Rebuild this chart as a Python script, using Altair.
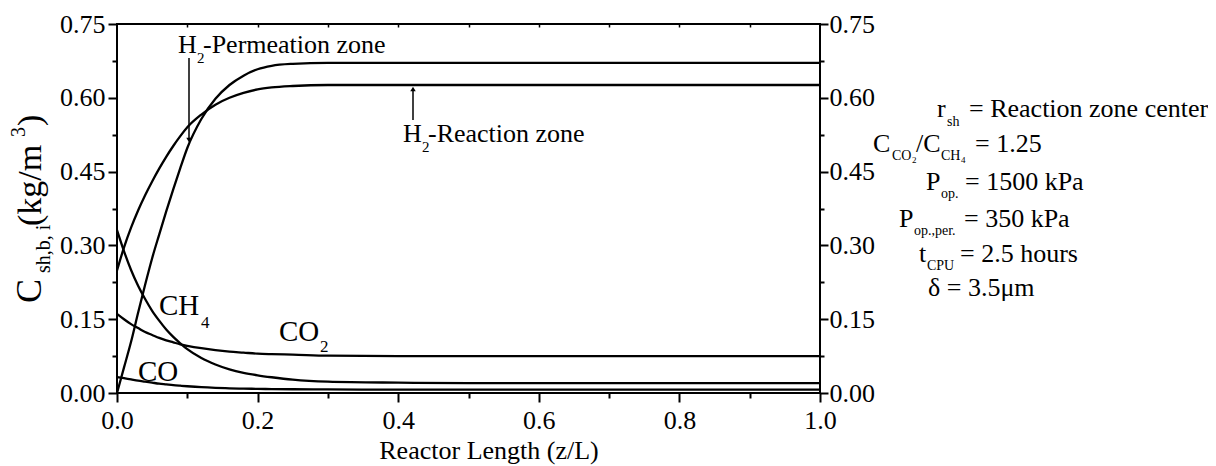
import altair as alt
import pandas as pd

# ---------------- data ----------------
x_vals = [0.0, 0.01, 0.02, 0.03, 0.04, 0.05, 0.06, 0.07, 0.08, 0.09, 0.10, 0.12,
          0.14, 0.16, 0.18, 0.20, 0.22, 0.25, 0.30, 0.40, 0.50, 0.60, 0.80, 1.00]
h2_perm = [0.0, 0.052, 0.104, 0.163, 0.220, 0.274, 0.322, 0.369, 0.414, 0.457, 0.498, 0.557,
           0.598, 0.626, 0.645, 0.658, 0.665, 0.669, 0.671, 0.671, 0.671, 0.671, 0.671, 0.671]
h2_react = [0.249, 0.296, 0.336, 0.371, 0.402, 0.430, 0.456, 0.480, 0.502, 0.522, 0.540, 0.566,
            0.586, 0.600, 0.610, 0.617, 0.621, 0.624, 0.626, 0.626, 0.626, 0.626, 0.626, 0.626]
ch4 = [0.331, 0.288, 0.250, 0.218, 0.191, 0.167, 0.147, 0.129, 0.114, 0.101, 0.089, 0.071,
       0.058, 0.048, 0.041, 0.036, 0.032, 0.027, 0.023, 0.021, 0.020, 0.020, 0.020, 0.020]
co2 = [0.161, 0.150, 0.140, 0.132, 0.124, 0.118, 0.112, 0.107, 0.103, 0.099, 0.096, 0.091,
       0.087, 0.084, 0.082, 0.080, 0.079, 0.078, 0.076, 0.075, 0.075, 0.075, 0.075, 0.075]
co = [0.0325, 0.030, 0.0275, 0.025, 0.023, 0.021, 0.019, 0.0175, 0.016, 0.0148, 0.0137, 0.0118,
      0.0105, 0.0096, 0.0089, 0.0084, 0.0080, 0.0076, 0.0072, 0.0070, 0.0070, 0.0070, 0.0070, 0.0070]

series = {"H2 permeation": h2_perm, "H2 reaction": h2_react, "CH4": ch4, "CO2": co2, "CO": co}

x_ticks = [0.0, 0.1, 0.2, 0.3, 0.4, 0.5, 0.6, 0.7, 0.8, 0.9, 1.0]
y_ticks = [0.0, 0.075, 0.15, 0.225, 0.30, 0.375, 0.45, 0.525, 0.60, 0.675, 0.75]
top_ticks = [0.1, 0.2, 0.3, 0.4, 0.5, 0.6, 0.7, 0.8, 0.9]

rows = []
for name, vals in series.items():
    for xv, yv in zip(x_vals, vals):
        rows.append({"z": xv, "c": yv, "species": name})
df = pd.DataFrame(rows)

# ---------------- layout ----------------
FONT = "Liberation Serif"
W, H = 703, 369
OX, OY = 117, 24          # plot origin on the page
PAD_L, PAD_T = OX - 8, OY - 8
TOTAL_W, TOTAL_H = 1200, 458

x_scale = alt.Scale(domain=[0, 1], nice=False, zero=False)
y_scale = alt.Scale(domain=[0, 0.75], nice=False, zero=False)

x_major = "abs(datum.value*5 - round(datum.value*5)) < 0.001"
y_major = "abs(datum.value/0.15 - round(datum.value/0.15)) < 0.001"

axis_common = dict(domain=False, grid=False, labelFont=FONT, labelFontSize=26,
                   labelColor="black", tickColor="black", tickWidth=2, title="")

x_axis = alt.Axis(orient="bottom", values=x_ticks,
                  labelExpr=f"{x_major} ? format(datum.value, '.1f') : ''",
                  tickSize={"condition": {"test": x_major, "value": 9}, "value": 5},
                  labelPadding=5, labelFlush=False, labelOverlap=False, **axis_common)
y_axis_l = alt.Axis(orient="left", values=y_ticks,
                    labelExpr=f"{y_major} ? format(datum.value, '.2f') : ''",
                    tickSize={"condition": {"test": y_major, "value": 9}, "value": 5},
                    labelPadding=3, labelFlush=False, labelOverlap=False, **axis_common)
y_axis_r = alt.Axis(orient="right", values=y_ticks,
                    labelExpr=f"{y_major} ? format(datum.value, '.2f') : ''",
                    tickSize={"condition": {"test": y_major, "value": 8}, "value": 4},
                    labelPadding=1, labelFlush=False, labelOverlap=False, **axis_common)
x_axis_t = alt.Axis(orient="top", values=top_ticks, labels=False, tickSize=3, offset=-3,
                    domain=False, grid=False, tickColor="black", tickWidth=1.5, title="")

lines = alt.Chart(df).mark_line(color="black", strokeWidth=2.3, interpolate="monotone").encode(
    x=alt.X("z:Q", scale=x_scale, axis=x_axis),
    y=alt.Y("c:Q", scale=y_scale, axis=y_axis_l),
    detail="species:N",
)
ghost = alt.Chart(df).mark_line(opacity=0).encode(
    x=alt.X("z:Q", scale=x_scale, axis=x_axis_t),
    y=alt.Y("c:Q", scale=y_scale, axis=y_axis_r),
    detail="species:N",
)

one = pd.DataFrame({"k": [0]})

# text pieces: (text, page_x, page_y_baseline, fontSize, angle)
texts = [
    # in-plot labels
    ("H", 178, 53, 26, 0), ("2", 197, 63, 15, 0), ("-Permeation zone", 203, 53, 26, 0),
    ("H", 403, 142, 26, 0), ("2", 422, 152, 15, 0), ("-Reaction zone", 428, 142, 26, 0),
    ("CH", 159, 315, 29, 0), ("4", 201, 328, 17, 0),
    ("CO", 279, 341, 29, 0), ("2", 320, 352, 17, 0),
    ("CO", 138, 381, 29, 0),
    # right-hand notes
    ("r", 937, 117, 26, 0), ("sh", 947, 126, 14, 0), ("= Reaction zone center", 969, 117, 26, 0),
    ("C", 873, 152, 26, 0), ("CO", 892, 160, 14, 0), ("2", 912, 163, 9, 0),
    ("/C", 916, 152, 26, 0), ("CH", 941, 160, 14, 0), ("4", 961, 163, 9, 0),
    ("= 1.25", 975, 152, 26, 0),
    ("P", 926, 190, 26, 0), ("op.", 941, 198, 14, 0), ("= 1500 kPa", 965, 190, 26, 0),
    ("P", 899, 227, 26, 0), ("op.,per.", 914, 235, 14, 0), ("= 350 kPa", 964, 227, 26, 0),
    ("t", 919, 262, 26, 0), ("CPU", 927, 270, 14, 0), ("= 2.5 hours", 960, 262, 26, 0),
    ("\u03b4 = 3.5\u03bcm", 928, 296, 26, 0),
    # y-axis title (rotated)
    ("C", 41, 303, 36, 270), ("sh,b, i", 50, 273, 20, 270), (" (kg/m", 41, 226, 34, 270),
    ("3", 25, 137, 20, 270), (")", 41, 126, 34, 270),
]

layers = [lines, ghost]
for t, px, py, fs, ang in texts:
    layers.append(
        alt.Chart(one).mark_text(text=t, align="left", baseline="alphabetic", font=FONT,
                                 fontSize=fs, angle=ang, color="black")
        .encode(x=alt.value(px - OX), y=alt.value(py - OY))
    )

# x-axis title
layers.append(
    alt.Chart(one).mark_text(text="Reactor Length (z/L)", align="center", baseline="alphabetic",
                             font=FONT, fontSize=26, color="black")
    .encode(x=alt.value(489 - OX), y=alt.value(459 - OY))
)

# arrows: (x, y_from, y_to, shape)
arrows = [(189, 58, 140, "triangle-down"), (413, 120, 89, "triangle-up")]
for ax, y1, y2, shp in arrows:
    layers.append(
        alt.Chart(one).mark_rule(color="black", strokeWidth=1.5)
        .encode(x=alt.value(ax - OX), y=alt.value(y1 - OY), y2=alt.value(y2 - OY))
    )
    layers.append(
        alt.Chart(one).mark_point(shape=shp, filled=True, color="black", size=30, opacity=1)
        .encode(x=alt.value(ax - OX), y=alt.value(y2 - OY))
    )

chart = alt.layer(*layers).resolve_axis(x="independent", y="independent").properties(
    width=W, height=H,
    autosize=alt.AutoSizeParams(type="none"),
    padding={"left": PAD_L, "top": PAD_T, "right": TOTAL_W - PAD_L - W,
             "bottom": TOTAL_H - PAD_T - H},
    background="white",
).configure_view(stroke="black", strokeWidth=2)

chart.save("out.html", embed_options={"renderer": "svg", "actions": False})
